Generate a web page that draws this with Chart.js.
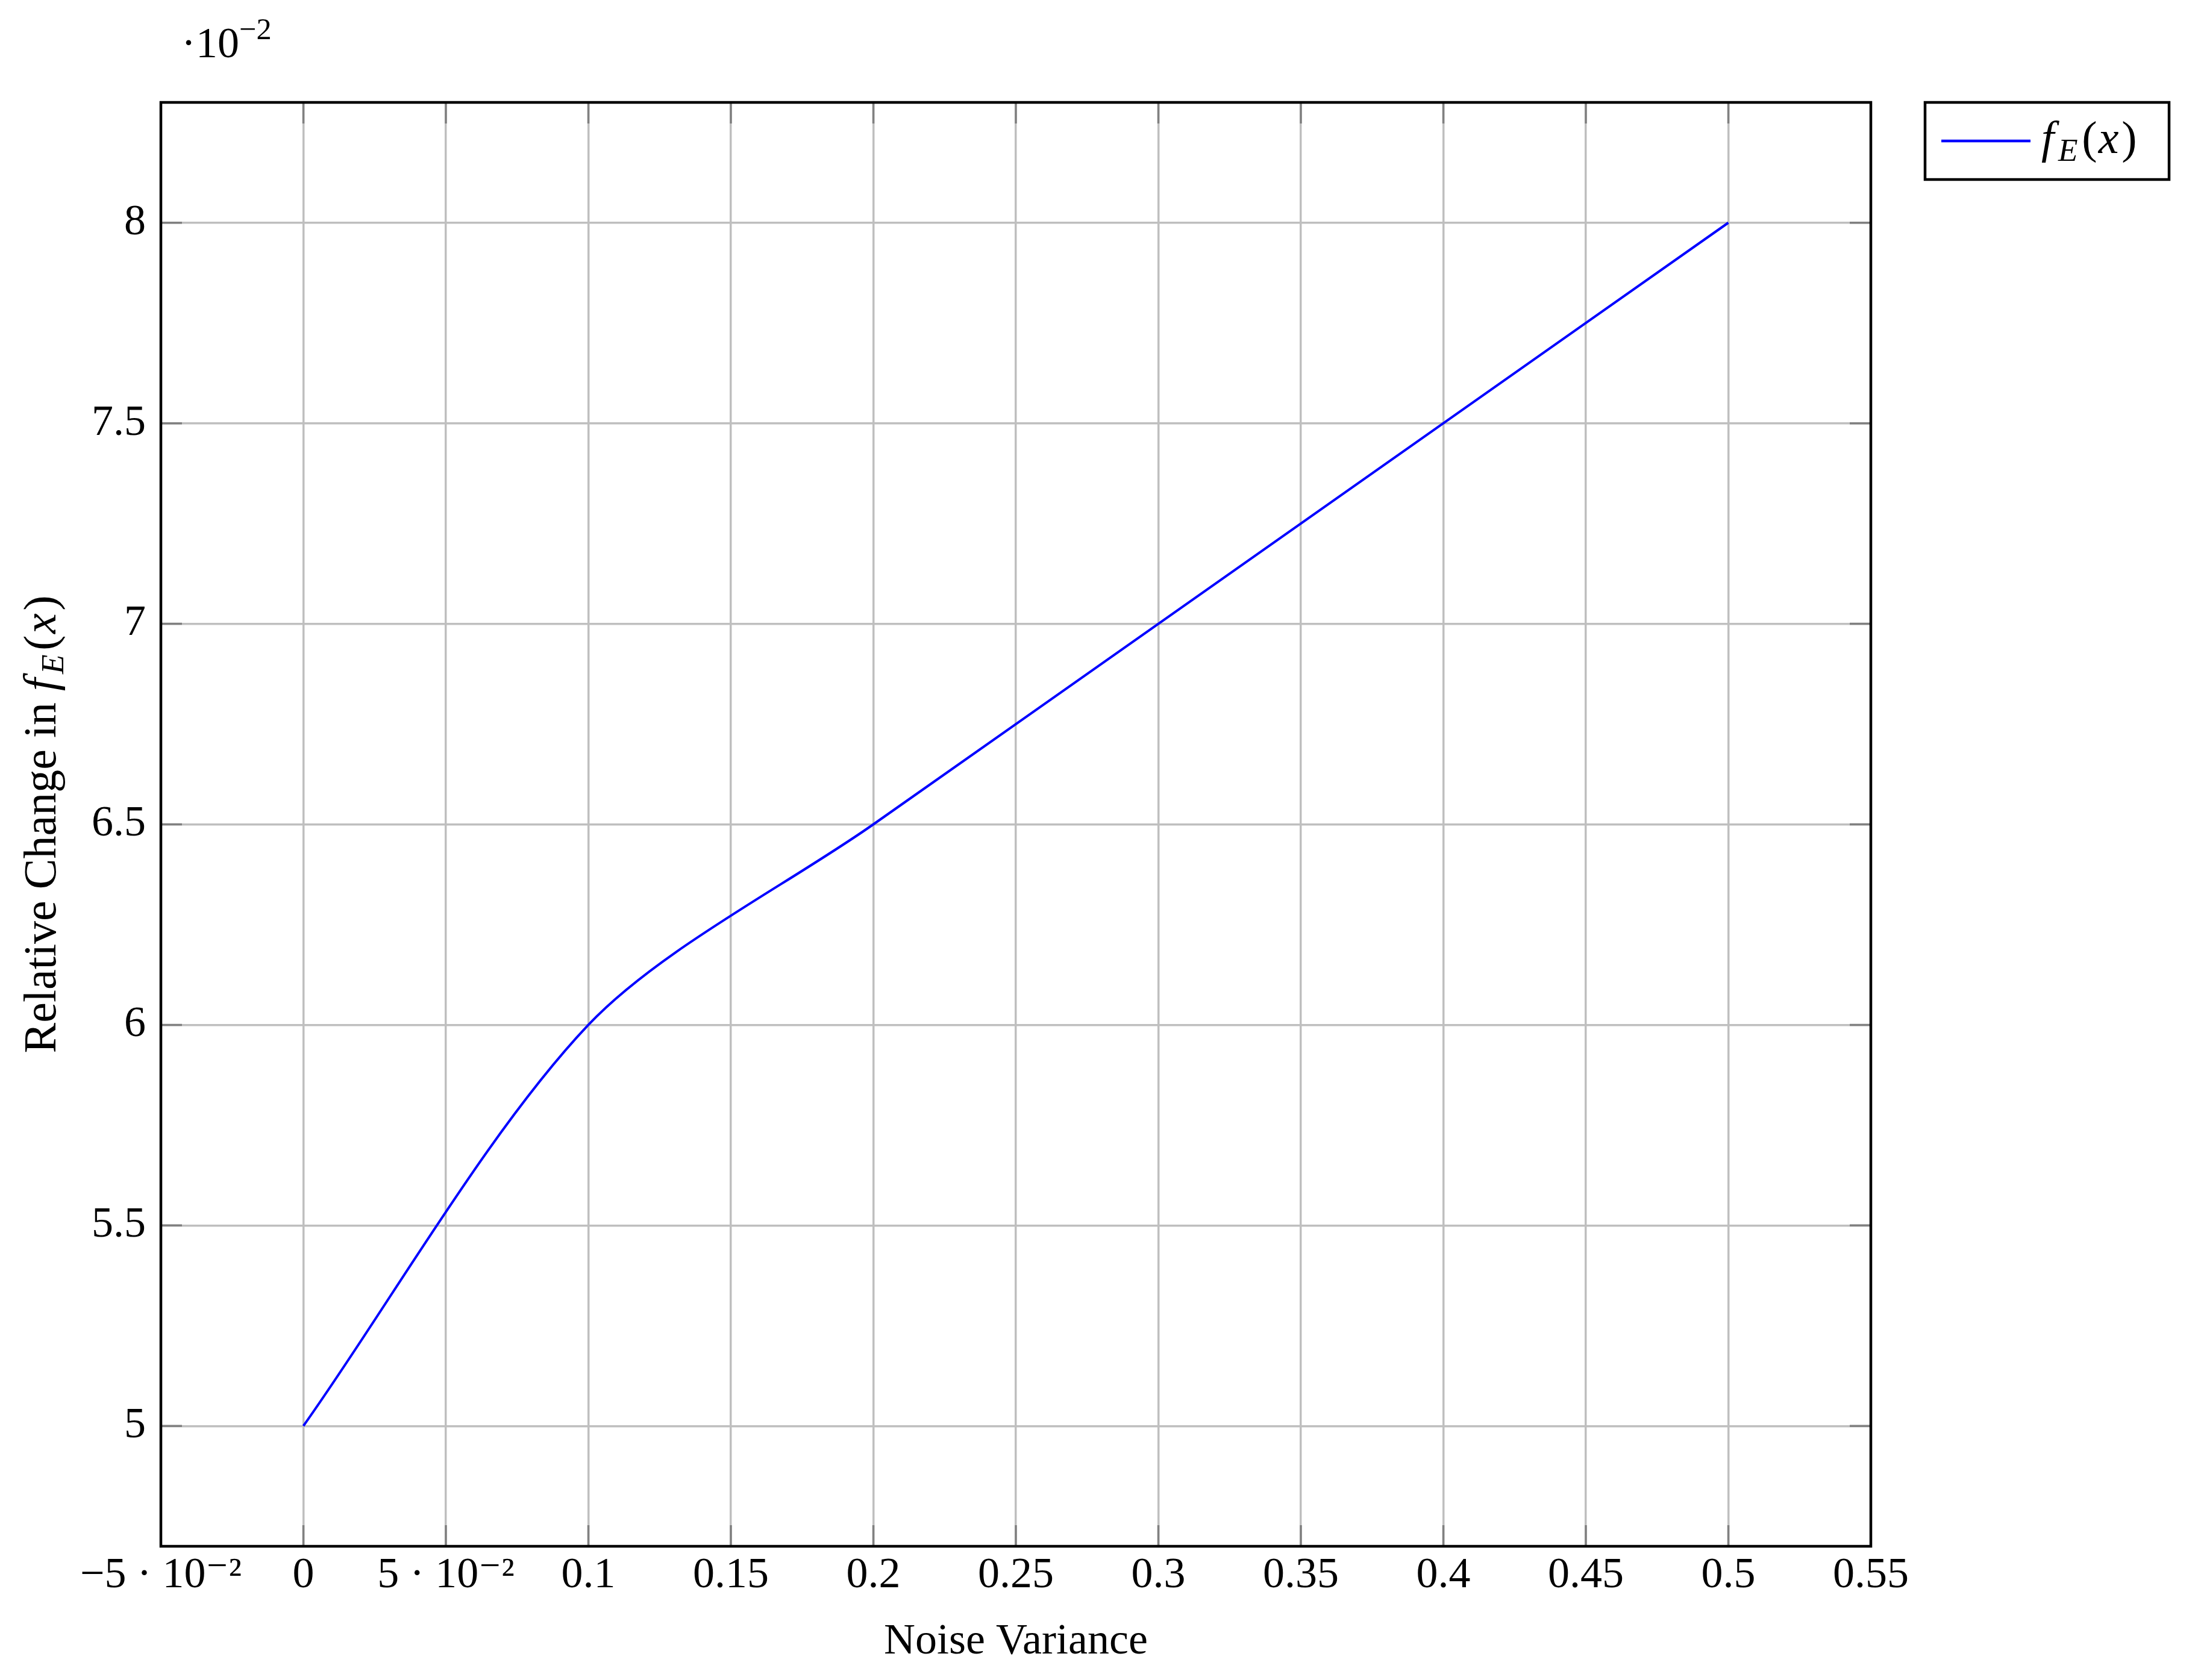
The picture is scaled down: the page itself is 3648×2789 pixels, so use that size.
<!DOCTYPE html>
<html>
<head>
<meta charset="utf-8">
<script src="https://cdn.jsdelivr.net/npm/chart.js@4.4.1/dist/chart.umd.min.js"></script>
<style>
  html, body { margin: 0; padding: 0; background: #fff; }
  #wrap { width: 3648px; height: 2789px; }
</style>
</head>
<body>
<div id="wrap"><canvas id="noiseChart" width="3648" height="2789"></canvas></div>
<script>
// Relative change in f_E(x) vs noise variance (y axis printed in units of 10^-2)
const noiseVariance = [0, 0.1, 0.2, 0.3, 0.4, 0.5];
const relChange = [0.05, 0.06, 0.065, 0.07, 0.075, 0.08];

const xTicks = [-0.05, 0, 0.05, 0.1, 0.15, 0.2, 0.25, 0.3, 0.35, 0.4, 0.45, 0.5, 0.55];
const xTickLabels = ['−5 · 10⁻²', '0', '5 · 10⁻²', '0.1', '0.15', '0.2', '0.25', '0.3', '0.35', '0.4', '0.45', '0.5', '0.55'];
const yTicks = [0.05, 0.055, 0.06, 0.065, 0.07, 0.075, 0.08];
const yTickLabels = ['5', '5.5', '6', '6.5', '7', '7.5', '8'];

const FONT = '"Liberation Serif", "DejaVu Serif", serif';
const FS = 72;
const TITLE_FS = 76;

// draws a run of text pieces (italic / subscript / superscript) starting at x
function drawParts(ctx, parts, x, y, size) {
    for (const p of parts) {
        const s = (p.sub || p.sup) ? size * 0.7 : size;
        ctx.font = (p.it ? 'italic ' : '') + s + 'px ' + FONT;
        let dy = 0;
        if (p.sub) dy = size * 0.17;
        if (p.sup) dy = -size * 0.42;
        ctx.fillText(p.t, x, y + dy);
        x += ctx.measureText(p.t).width + (p.gap || 0) * size;
    }
    return x;
}
function partsWidth(ctx, parts, size) {
    let w = 0;
    for (const p of parts) {
        const s = (p.sub || p.sup) ? size * 0.7 : size;
        ctx.font = (p.it ? 'italic ' : '') + s + 'px ' + FONT;
        w += ctx.measureText(p.t).width + (p.gap || 0) * size;
    }
    return w;
}

const fEx = [
    { t: 'f', it: true, gap: 0.09 },
    { t: 'E', it: true, sub: true, gap: 0.09 },
    { t: '(', gap: 0.03 },
    { t: 'x', it: true, gap: 0.06 },
    { t: ')' }
];

const decorations = {
    id: 'decorations',
    beforeDatasetsDraw(chart) {
        const ctx = chart.ctx;
        const a = chart.chartArea;
        const xs = chart.scales.x, ys = chart.scales.y;
        const len = 35;
        ctx.save();
        ctx.strokeStyle = '#808080';
        ctx.lineWidth = 3.5;
        ctx.beginPath();
        xTicks.forEach(v => {
            const px = xs.getPixelForValue(v);
            ctx.moveTo(px, a.bottom); ctx.lineTo(px, a.bottom - len);
            ctx.moveTo(px, a.top); ctx.lineTo(px, a.top + len);
        });
        yTicks.forEach(v => {
            const py = ys.getPixelForValue(v);
            ctx.moveTo(a.left, py); ctx.lineTo(a.left + len, py);
            ctx.moveTo(a.right, py); ctx.lineTo(a.right - len, py);
        });
        ctx.stroke();
        ctx.restore();
    },
    afterDraw(chart) {
        const ctx = chart.ctx;
        const a = chart.chartArea;
        ctx.save();

        // frame
        ctx.strokeStyle = '#000';
        ctx.lineWidth = 4.5;
        ctx.strokeRect(a.left, a.top, a.right - a.left, a.bottom - a.top);

        ctx.fillStyle = '#000';
        ctx.textBaseline = 'alphabetic';
        ctx.textAlign = 'left';

        // scale multiplier above the y axis
        drawParts(ctx, [{ t: '·10' }, { t: '−2', sup: true }], a.left + 34, a.top - 75, FS);

        // x axis title
        ctx.font = FS + 'px ' + FONT;
        ctx.textAlign = 'center';
        ctx.fillText('Noise Variance', (a.left + a.right) / 2, a.bottom + 178);
        ctx.textAlign = 'left';

        // y axis title, rotated
        const yParts = [{ t: 'Relative Change in ' }].concat(fEx);
        const yw = partsWidth(ctx, yParts, TITLE_FS);
        ctx.save();
        ctx.translate(92, (a.top + a.bottom) / 2);
        ctx.rotate(-Math.PI / 2);
        drawParts(ctx, yParts, -yw / 2, 0, TITLE_FS);
        ctx.restore();

        // legend box
        const lx = a.right + 90, ly = a.top, lw = 405, lh = 128;
        ctx.fillStyle = '#fff';
        ctx.fillRect(lx, ly, lw, lh);
        ctx.strokeStyle = '#000';
        ctx.lineWidth = 4.5;
        ctx.strokeRect(lx, ly, lw, lh);
        ctx.strokeStyle = chart.data.datasets[0].borderColor;
        ctx.lineWidth = 4.5;
        ctx.beginPath();
        ctx.moveTo(lx + 27, ly + 64);
        ctx.lineTo(lx + 175, ly + 64);
        ctx.stroke();
        ctx.fillStyle = '#000';
        drawParts(ctx, fEx, lx + 193, ly + 84, TITLE_FS);

        ctx.restore();
    }
};

const ctx = document.getElementById('noiseChart').getContext('2d');
new Chart(ctx, {
    type: 'line',
    data: {
        datasets: [{
            label: 'f_E(x)',
            data: noiseVariance.map((x, i) => ({ x: x, y: relChange[i] })),
            borderColor: '#0000ff',
            borderWidth: 4,
            pointRadius: 0,
            fill: false,
            tension: 0.3
        }]
    },
    options: {
        responsive: false,
        devicePixelRatio: 1,
        animation: false,
        layout: { padding: { left: 0, top: 170, right: 543, bottom: 0 } },
        plugins: {
            legend: { display: false },
            tooltip: { enabled: false }
        },
        scales: {
            x: {
                type: 'linear',
                min: -0.05,
                max: 0.55,
                afterBuildTicks: s => { s.ticks = xTicks.map(v => ({ value: v })); },
                afterFit: s => { s.height = 222; },
                grid: { color: '#bfbfbf', lineWidth: 3.5, drawTicks: false },
                border: { display: false },
                ticks: {
                    autoSkip: false,
                    maxRotation: 0,
                    minRotation: 0,
                    padding: 6,
                    color: '#000',
                    font: { family: FONT, size: FS },
                    callback: (v, i) => xTickLabels[i]
                }
            },
            y: {
                type: 'linear',
                min: 0.047,
                max: 0.083,
                afterBuildTicks: s => { s.ticks = yTicks.map(v => ({ value: v })); },
                afterFit: s => { s.width = 267; },
                grid: { color: '#bfbfbf', lineWidth: 3.5, drawTicks: false },
                border: { display: false },
                ticks: {
                    autoSkip: false,
                    padding: 25,
                    color: '#000',
                    font: { family: FONT, size: FS },
                    callback: (v, i) => yTickLabels[i]
                }
            }
        }
    },
    plugins: [decorations]
});
</script>
</body>
</html>
